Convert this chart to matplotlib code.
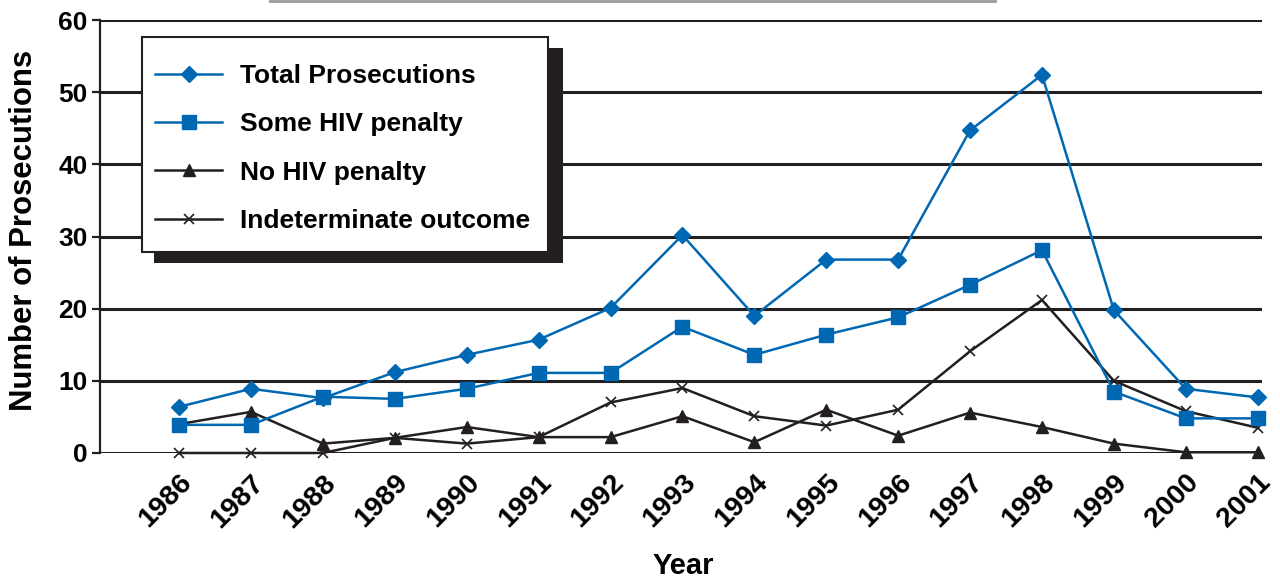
import matplotlib
matplotlib.use("Agg")
import matplotlib.pyplot as plt
from matplotlib.patches import Rectangle
from matplotlib.lines import Line2D

years = [1986, 1987, 1988, 1989, 1990, 1991, 1992, 1993, 1994, 1995, 1996, 1997, 1998, 1999, 2000, 2001]
total = [6.4, 8.9, 7.6, 11.2, 13.6, 15.7, 20.1, 30.2, 19.0, 26.8, 26.8, 44.7, 52.4, 19.8, 8.9, 7.7]
some_penalty = [3.9, 3.9, 7.8, 7.5, 8.9, 11.1, 11.1, 17.5, 13.6, 16.4, 18.8, 23.3, 28.1, 8.5, 4.8, 4.8]
no_penalty = [4.0, 5.7, 1.3, 2.1, 3.6, 2.2, 2.2, 5.1, 1.5, 6.0, 2.4, 5.6, 3.6, 1.3, 0.1, 0.1]
indeterminate = [0.0, 0.0, 0.0, 2.1, 1.3, 2.2, 7.0, 9.0, 5.1, 3.8, 6.0, 14.1, 21.2, 10.0, 5.8, 3.5]
yticks = [0, 10, 20, 30, 40, 50, 60]

BLUE = "#0068b3"
BLACK = "#231f20"
W, H = 1280, 580

plt.rcParams['font.family'] = ['Liberation Sans', 'DejaVu Sans']
plt.rcParams['font.weight'] = 'bold'

fig = plt.figure(figsize=(W / 100, H / 100), dpi=100)
ax = fig.add_axes([100 / W, 1 - 453 / H, 1162 / W, 433 / H])

ax.set_xlim(1984.9, 2001.06)
ax.set_ylim(0, 60)

for y in yticks:
    ax.axhline(y, color=BLACK, lw=2.2, zorder=1)

ax.plot(years, total, color=BLUE, lw=1.8, marker='D', ms=8.5, label='Total Prosecutions', zorder=4, clip_on=False)
ax.plot(years, some_penalty, color=BLUE, lw=1.8, marker='s', ms=9.5, label='Some HIV penalty', zorder=4, clip_on=False)
ax.plot(years, no_penalty, color=BLACK, lw=1.8, marker='^', ms=9, label='No HIV penalty', zorder=3, clip_on=False)
ax.plot(years, indeterminate, color=BLACK, lw=1.8, marker='x', ms=7.5, mew=1.2, label='Indeterminate outcome', zorder=3, clip_on=False)

for s in ['top', 'right', 'bottom']:
    ax.spines[s].set_visible(False)
ax.spines['left'].set_linewidth(1.6)
ax.spines['left'].set_color(BLACK)

ax.set_yticks(yticks)
ax.set_yticklabels([str(v) for v in yticks], fontsize=19, fontweight='bold')
ax.tick_params(axis='y', length=6, width=1.6, color=BLACK, pad=3)

ax.set_xticks(years)
ax.set_xticklabels([str(v) for v in years], fontsize=20.5, fontweight='bold', rotation=45, ha='right', va='top', rotation_mode='anchor')
ax.tick_params(axis='x', length=0, pad=12)

fig.text(24 / W, 1 - 230 / H, 'Number of Prosecutions', rotation=90, ha='center', va='center', fontsize=22.4, fontweight='bold')
fig.text(683 / W, 1 - 566 / H, 'Year', ha='center', va='center', fontsize=21, fontweight='bold')

# legend shadow and frame
ax.add_patch(Rectangle((154 / W, 1 - 263 / H), (563 - 154) / W, (263 - 48) / H,
                       transform=fig.transFigure, facecolor=BLACK, edgecolor='none', zorder=9, clip_on=False))
ax.add_patch(Rectangle((142 / W, 1 - 252 / H), (548 - 142) / W, (252 - 37) / H,
                       transform=fig.transFigure, facecolor='white', edgecolor=BLACK, lw=1.5, zorder=9.5, clip_on=False))

leg = ax.legend(loc='upper left', bbox_to_anchor=(155 / W, 1 - 64 / H), bbox_transform=fig.transFigure,
                borderaxespad=0, frameon=False, prop={'size': 19, 'weight': 'bold'},
                handlelength=2.54, handletextpad=0.68, labelspacing=0.92, borderpad=0)
leg.set_zorder(10)

# cropped title remnant line at top
fig.lines.append(Line2D([270 / W, 995 / W], [1 - 1 / H, 1 - 1 / H], transform=fig.transFigure, color='#9a9a9a', lw=2))

fig.savefig('out.png', dpi=100)
